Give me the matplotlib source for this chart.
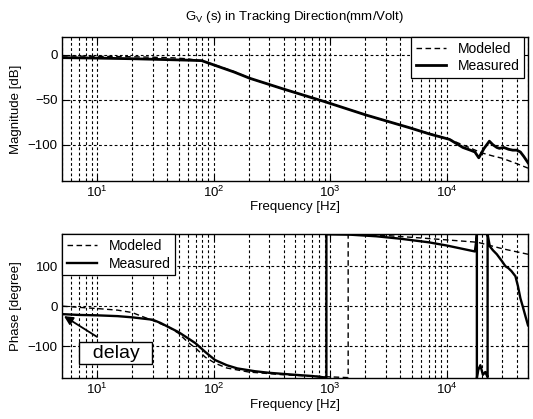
import numpy as np
import matplotlib
matplotlib.use("Agg")
import matplotlib.pyplot as plt

plt.rcParams.update({
    "font.family": ["Liberation Sans", "DejaVu Sans"],
    "font.size": 9.5,
    "mathtext.fontset": "custom",
    "mathtext.rm": "Liberation Sans",
    "mathtext.it": "Liberation Sans:italic",
    "mathtext.bf": "Liberation Sans:bold",
})

# ---- magnitude (dB) ----
f_mag_mod = [5, 10, 20, 30, 45, 60, 79, 100, 150, 205, 400, 900, 2050, 4800,
             1.06e4, 1.4e4, 2e4, 2.5e4, 3e4, 4e4, 5e4]
mag_mod = [-1, -1.5, -2, -2.5, -3.2, -4.3, -6.8, -10.5, -18.5, -26, -38, -52,
           -67, -81, -94, -100.5, -109, -112.5, -115, -121, -126]

f_mag_meas = [5, 10, 20, 40, 60, 79, 100, 150, 205, 400, 900, 2050, 4800, 7150,
              1.06e4, 1.38e4, 1.6e4, 1.75e4, 1.89e4, 2.1e4, 2.33e4, 2.5e4, 2.7e4,
              2.84e4, 3.1e4, 3.4e4, 3.7e4, 4e4, 4.3e4, 4.6e4, 5e4]
mag_meas = [-3, -3.5, -4.2, -5.2, -5.8, -6.3, -11, -19, -26, -38, -52, -67, -81,
            -88, -94, -103, -106, -108, -114.5, -104, -96, -100, -103, -104, -103,
            -105, -106, -106, -108, -113, -120]

# ---- phase (deg) ----
f_ph_mod = [5, 7, 10, 15, 20, 30, 41.5, 50, 60, 70, 85, 103, 130, 200, 400, 800,
            1430, 1430, 3000, 5900, 1e4, 1.85e4, 3e4, 5e4]
ph_mod = [0, -3, -6, -10, -16, -36, -53, -68, -90, -105, -128, -143, -155, -165,
          -172, -176, -179, 180, 177, 171, 166, 160, 144, 130]

f_ph_meas = [5, 7, 10, 15, 20, 30, 35, 41.5, 50, 60, 70, 85, 103, 130, 160, 226,
             300, 500, 700, 930, 930, 1500, 2500, 4000, 7000, 1e4, 1.4e4, 1.75e4,
             1.8e4, 1.82e4, 1.82e4, 1.87e4, 1.95e4, 2.05e4, 2.15e4, 2.25e4, 2.25e4,
             2.35e4, 2.5e4, 2.7e4, 3e4, 3.2e4, 3.4e4, 3.6e4, 3.9e4, 4.1e4, 4.3e4,
             4.5e4, 4.7e4, 5e4]
ph_meas = [-20, -22, -23, -25, -28, -34, -42, -53, -65, -80, -93, -115, -135, -148,
           -156, -163, -167, -172, -175, -179, 180, 179, 175, 169, 160, 152, 143, 137,
           165, 180, -180, -160, -148, -172, -165, -178, 180, 150, 140, 130, 112, 100,
           95, 88, 75, 50, 20, 0, -20, -48]

W, H = 533, 419
fig = plt.figure(figsize=(W / 100, H / 100), dpi=100)
ax1 = fig.add_axes([62 / W, 1 - 180.7 / H, 466 / W, 143.7 / H])
ax2 = fig.add_axes([62 / W, 1 - 378 / H, 466 / W, 143.7 / H])

grid_kw = dict(color="k", linestyle=(0, (2.5, 2.2)), linewidth=0.8)
for ax in (ax1, ax2):
    ax.set_xscale("log")
    ax.set_xlim(5, 5e4)
    ax.grid(True, which="major", axis="both", **grid_kw)
    ax.grid(True, which="minor", axis="x", **grid_kw)
    ax.tick_params(which="both", direction="in", top=True, right=True, pad=3)
    ax.tick_params(which="major", length=4, width=0.8)
    ax.tick_params(which="minor", length=2, width=0.6)
    for s in ax.spines.values():
        s.set_linewidth(1.0)
    ax.set_xlabel("Frequency [Hz]", labelpad=1)

ax1.plot(f_mag_mod, mag_mod, color="k", lw=1.0, ls=(0, (4, 2.5)), label="Modeled")
ax1.plot(f_mag_meas, mag_meas, color="k", lw=2.0, label="Measured")
ax1.set_ylim(-140, 20)
ax1.set_yticks([-100, -50, 0])
ax1.set_ylabel("Magnitude [dB]")
ax1.legend(loc="upper right", bbox_to_anchor=(0.992, 1.0), borderaxespad=0,
           fancybox=False, edgecolor="k", framealpha=1, handlelength=2.2,
           labelspacing=0.25, borderpad=0.35, fontsize=10).get_frame().set_linewidth(0.9)

ax2.plot(f_ph_mod, ph_mod, color="k", lw=1.0, ls=(0, (4, 2.5)), label="Modeled")
ax2.plot(f_ph_meas, ph_meas, color="k", lw=1.7, label="Measured")
ax2.set_ylim(-180, 180)
ax2.set_yticks([-100, 0, 100])
ax2.set_ylabel("Phase [degree]")
ax2.legend(loc="upper left", borderaxespad=0, fancybox=False, edgecolor="k",
           framealpha=1, handlelength=2.2, labelspacing=0.25,
           borderpad=0.35, fontsize=10).get_frame().set_linewidth(0.9)

# both y labels on the same column (~22 px from the left edge)
for ax in (ax1, ax2):
    ax.yaxis.set_label_coords(-40 / 466, 0.5)

# "delay" callout
ax2.text(14.5, -118, "  delay  ", fontsize=14, ha="center", va="center",
         bbox=dict(boxstyle="square,pad=0.12", fc="white", ec="k", lw=1.0))
ax2.annotate("", xy=(5.2, -25), xytext=(10, -77),
             arrowprops=dict(arrowstyle="-|>", color="k", fc="k", lw=1.3,
                             mutation_scale=13, shrinkA=0, shrinkB=0))

fig.text(295 / W, 1 - 17 / H, r"G$_\mathregular{V}$ (s) in Tracking Direction(mm/Volt)",
         ha="center", va="center", fontsize=9.5)

fig.savefig("out.png", dpi=100)
